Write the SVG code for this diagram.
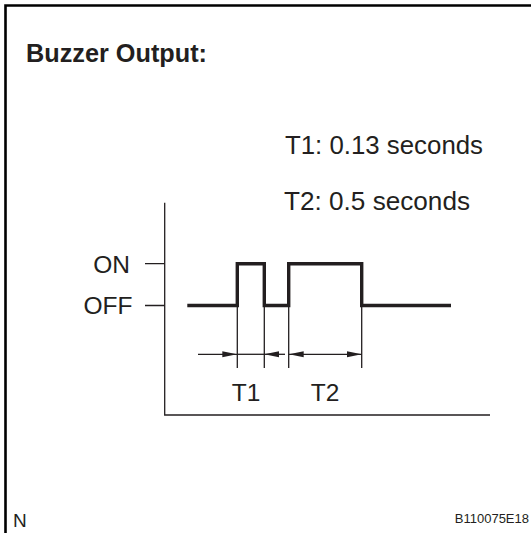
<svg xmlns="http://www.w3.org/2000/svg" width="531" height="533" viewBox="0 0 531 533">
<style>
text{font-family:"Liberation Sans",Arial,sans-serif;fill:#231f20}
.thin{stroke:#231f20;stroke-width:1.3;fill:none}
.wave{stroke:#231f20;stroke-width:3.4;fill:none;stroke-linejoin:miter}
.border{stroke:#000;stroke-width:2.6;fill:none}
</style>
<defs>
<marker id="ah" markerWidth="15" markerHeight="8" refX="15" refY="4" orient="auto-start-reverse" markerUnits="userSpaceOnUse">
<path d="M0,1 L15,4 L0,7 Z" fill="#231f20"/>
</marker>
</defs>
<rect width="531" height="533" fill="#fff"/>
<path class="border" d="M5.5,533 V5.5 H531"/>
<text x="26" y="61.5" font-size="26" font-weight="bold" textLength="181" lengthAdjust="spacingAndGlyphs">Buzzer Output:</text>
<text x="285" y="153.5" font-size="25" textLength="198" lengthAdjust="spacingAndGlyphs">T1: 0.13 seconds</text>
<text x="284" y="209.5" font-size="25" textLength="186" lengthAdjust="spacingAndGlyphs">T2: 0.5 seconds</text>
<g id="axes">
<path class="thin" d="M164.7,202.7 V415 H490"/>
<path class="thin" d="M145,263.7 H164.7 M145,305.5 H164.7"/>
</g>
<g id="label-on"><text x="130" y="272.5" font-size="24.5" text-anchor="end">ON</text></g>
<g id="label-off"><text x="132.5" y="314" font-size="24.5" text-anchor="end">OFF</text></g>
<g id="waveform">
<path class="wave" d="M187.3,305.5 H237.3 V263.7 H264.3 V305.5 H288.7 V263.7 H361.7 V305.5 H451"/>
</g>
<g id="connectors">
<path class="thin" d="M237.3,305.5 V368 M264.3,305.5 V368 M288.7,305.5 V368 M361.7,305.5 V368"/>
<path class="thin" d="M198,354.3 H237.3" marker-end="url(#ah)"/>
<path class="thin" d="M237.3,354.3 H264.3"/>
<path class="thin" d="M285,354.3 H264.3" marker-end="url(#ah)"/>
<path class="thin" d="M288.7,354.3 H361.7" marker-start="url(#ah)" marker-end="url(#ah)"/>
</g>
<g id="label-t1"><text x="246" y="400.7" font-size="24.5" text-anchor="middle">T1</text></g>
<g id="label-t2"><text x="325" y="400.7" font-size="24.5" text-anchor="middle">T2</text></g>
<text x="13" y="527" font-size="19">N</text>
<text x="529" y="523" font-size="13" text-anchor="end">B110075E18</text>
</svg>
